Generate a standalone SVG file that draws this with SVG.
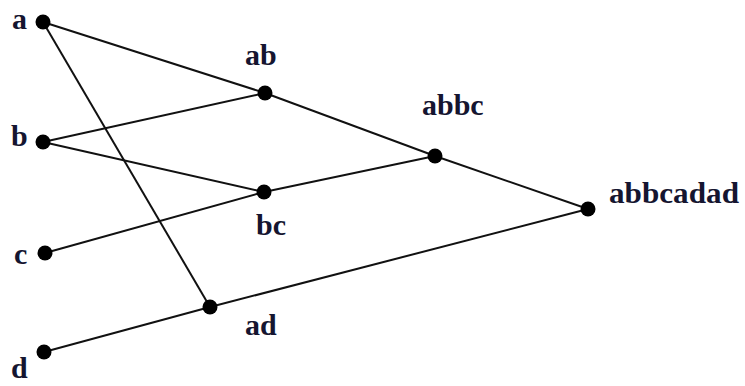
<svg xmlns="http://www.w3.org/2000/svg" width="745" height="386" viewBox="0 0 745 386">
<style>
.e{stroke:#111;stroke-width:2;fill:none}
.n{fill:#000}
.t{font-family:"Liberation Serif","Times New Roman",serif;font-weight:bold;font-size:30px;fill:#151530}
</style>
<rect width="745" height="386" fill="#fff"/>
<g id="connectors">
<line class="e" x1="43" y1="22" x2="265" y2="93"/>
<line class="e" x1="43" y1="22" x2="210" y2="307"/>
<line class="e" x1="43" y1="142" x2="265" y2="93"/>
<line class="e" x1="43" y1="142" x2="264" y2="192"/>
<line class="e" x1="45" y1="253" x2="264" y2="192"/>
<line class="e" x1="44" y1="352" x2="210" y2="307"/>
<line class="e" x1="265" y1="93" x2="435" y2="156"/>
<line class="e" x1="264" y1="192" x2="435" y2="156"/>
<line class="e" x1="435" y1="156" x2="588" y2="209"/>
<line class="e" x1="210" y1="307" x2="588" y2="209"/>
</g>
<g id="a"><circle class="n" cx="43" cy="22" r="7.5"/><text class="t" x="12" y="29">a</text></g>
<g id="b"><circle class="n" cx="43" cy="142" r="7.5"/><text class="t" x="11" y="146">b</text></g>
<g id="c"><circle class="n" cx="45" cy="253" r="7.5"/><text class="t" x="14" y="264">c</text></g>
<g id="d"><circle class="n" cx="44" cy="352" r="7.5"/><text class="t" x="11" y="378">d</text></g>
<g id="ab"><circle class="n" cx="265" cy="93" r="7.5"/><text class="t" x="245" y="65">ab</text></g>
<g id="bc"><circle class="n" cx="264" cy="192" r="7.5"/><text class="t" x="256" y="235">bc</text></g>
<g id="abbc"><circle class="n" cx="435" cy="156" r="7.5"/><text class="t" x="422" y="115">abbc</text></g>
<g id="abbcadad"><circle class="n" cx="588" cy="209" r="7.5"/><text class="t" x="609" y="203" textLength="130" lengthAdjust="spacingAndGlyphs">abbcadad</text></g>
<g id="ad"><circle class="n" cx="210" cy="307" r="7.5"/><text class="t" x="245" y="335">ad</text></g>
</svg>
